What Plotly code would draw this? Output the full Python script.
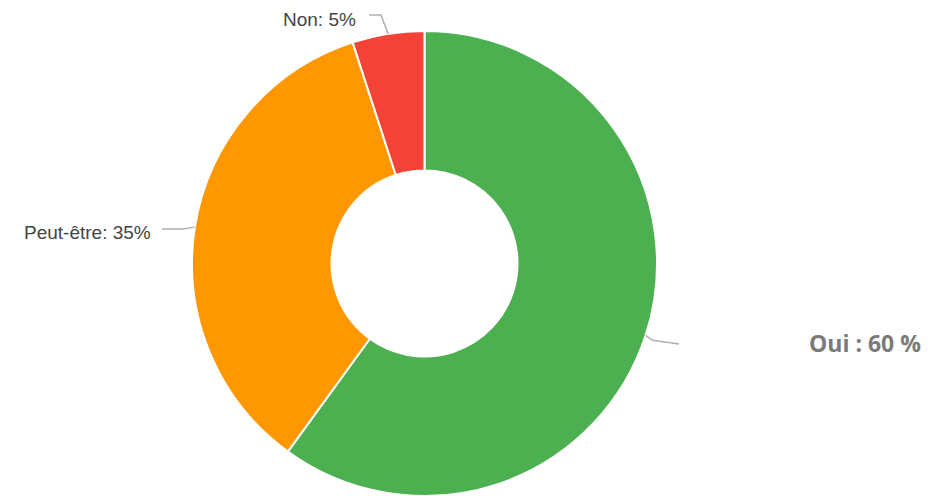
import math
import plotly.graph_objects as go

# ---- data ----
categories = ["Oui", "Peut-être", "Non"]
values = [60, 35, 5]
colors = ["#4CAF50", "#FF9800", "#F44336"]

# ---- geometry (pixels) ----
W, H = 935, 496
cx, cy, R = 424.5, 263.5, 232.5
hole = 0.40

fig = go.Figure(go.Pie(
    labels=categories, values=values, sort=False, direction="clockwise",
    rotation=0, hole=hole, textinfo="none", hoverinfo="label+percent",
    marker=dict(colors=colors, line=dict(color="white", width=2)),
    domain=dict(x=[(cx - R) / W, (cx + R) / W], y=[(H - cy - R) / H, (H - cy + R) / H]),
    showlegend=False,
))

def px(x):
    return x / W

def py(y):
    return 1 - y / H

# anchor points on slice edges from slice mid-angles
total = sum(values)
anchors = []
start = 0.0
for v in values:
    mid = (start + v / 2) / total * 2 * math.pi
    anchors.append((cx + R * math.sin(mid), cy - R * math.cos(mid)))
    start += v

pct = [round(v / total * 100) for v in values]
shapes = []
annotations = []
line_style = dict(color="#b0b0b0", width=1.5)

# Oui (right, bold)
ax, ay = anchors[0]
shapes.append(dict(type="path", xref="paper", yref="paper",
                   path=f"M {px(ax)},{py(ay)} L {px(ax+7)},{py(ay+5)} L {px(679)},{py(344)}",
                   line=line_style))
annotations.append(dict(x=px(807), y=py(343), xref="paper", yref="paper",
                        xanchor="left", yanchor="middle", showarrow=False,
                        text=f"{categories[0]} : {pct[0]} %",
                        font=dict(family="Open Sans", size=23, color="#7a7a7a", weight="bold")))

# Peut-être (left)
ax, ay = anchors[1]
shapes.append(dict(type="path", xref="paper", yref="paper",
                   path=f"M {px(162)},{py(229)} L {px(183)},{py(229)} L {px(ax)},{py(ay)}",
                   line=line_style))
annotations.append(dict(x=px(153), y=py(232), xref="paper", yref="paper",
                        xanchor="right", yanchor="middle", showarrow=False,
                        text=f"{categories[1]}: {pct[1]}%",
                        font=dict(family="Liberation Sans, Arial", size=19, color="#444444")))

# Non (top)
ax, ay = anchors[2]
shapes.append(dict(type="path", xref="paper", yref="paper",
                   path=f"M {px(369)},{py(15)} L {px(381)},{py(15)} L {px(ax)},{py(ay)}",
                   line=line_style))
annotations.append(dict(x=px(358), y=py(19), xref="paper", yref="paper",
                        xanchor="right", yanchor="middle", showarrow=False,
                        text=f"{categories[2]}: {pct[2]}%",
                        font=dict(family="Liberation Sans, Arial", size=19, color="#444444")))

fig.update_layout(
    width=W, height=H, margin=dict(l=0, r=0, t=0, b=0),
    paper_bgcolor="white", plot_bgcolor="white",
    shapes=shapes, annotations=annotations,
)

fig.write_html("out.html", config={"displayModeBar": False},
               post_script="document.body.style.margin='0';document.body.style.overflow='hidden';")
